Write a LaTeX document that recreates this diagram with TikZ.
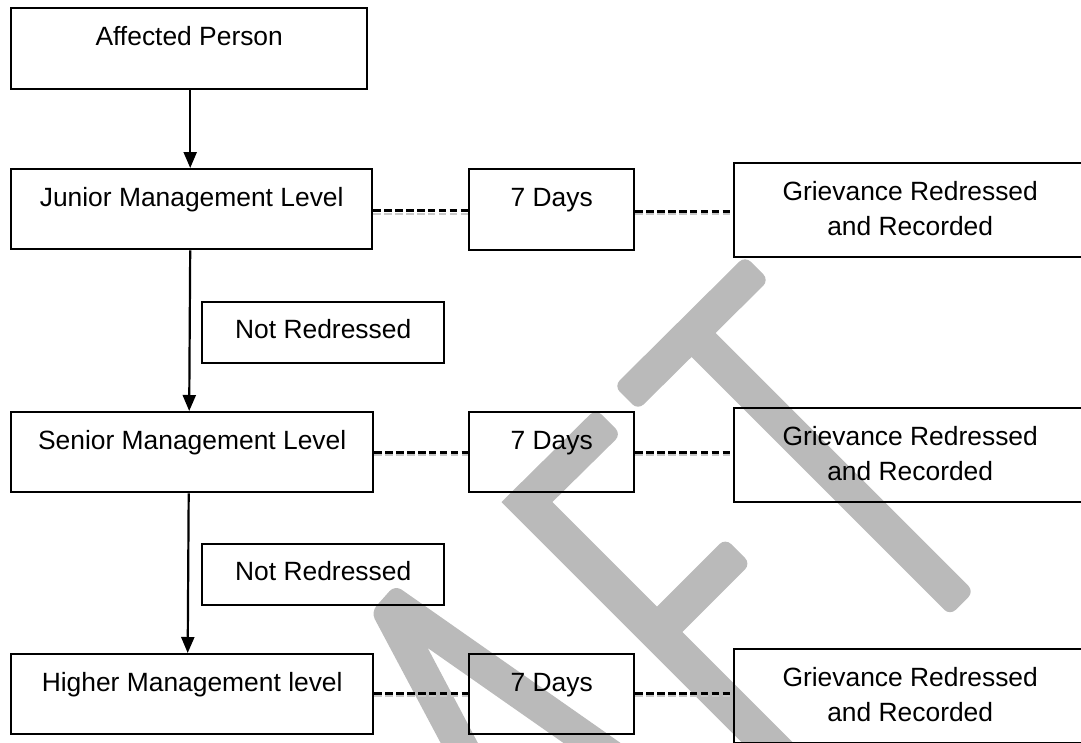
\documentclass[tikz,border=0pt]{standalone}
\usepackage{fontspec}
\setmainfont{Liberation Sans}
\usetikzlibrary{arrows.meta}
\definecolor{wmgray}{RGB}{186,186,186}
\definecolor{shgray}{RGB}{200,200,200}
\newcommand\wfont{\fontsize{26.4pt}{35pt}\selectfont}
\begin{document}
\begin{tikzpicture}[x=1pt,y=-1pt,
  box/.style={draw, line width=2.4pt, inner sep=0pt, anchor=north west, font=\wfont, text height=37pt},
  arr/.style={line width=2.2pt, -{Triangle[length=16pt,width=13pt]}},
  conn/.style={line width=2.6pt, dash pattern=on 7.5pt off 3.4pt},
  connshadow/.style={line width=2.4pt, shgray, dash pattern=on 7.5pt off 3.4pt},
  wm/.style={fill=wmgray}]
\useasboundingbox (0,0) rectangle (1081,742);
\clip (0,0) rectangle (1081,742);

% watermark (DRAFT, partly visible)
\fill[wm, rounded corners=8pt] (471,800) -- (371,612) -- (395,585) -- (702,800) [sharp corners] -- (645,800) -- (427.7,648) -- (508,800) -- cycle;
\fill[wm, rounded corners=8pt] (501.5,502) -- (595.8,408.8) -- (621.2,434.2) [sharp corners] -- (552.4,502) -- (657,606.6) [rounded corners=8pt] -- (725.3,538.3) -- (750.7,563.7) [sharp corners] -- (682.4,632) -- (852.4,802) -- (801.5,802) -- cycle;
\fill[wm, rounded corners=8pt] (614,386) -- (745,256) -- (769,280) [sharp corners] -- (715.5,333) [rounded corners=8pt] -- (974,591.5) -- (950,615.5) [sharp corners] -- (691.5,357) [rounded corners=8pt] -- (638,410) -- cycle;

% boxes
\node[box, minimum width=356pt, minimum height=81pt, text depth=44pt] (ap) at (10,7) {Affected Person};
\node[box, minimum width=361pt, minimum height=80pt, text depth=43pt] (jml) at (10,168) {Junior Management Level};
\node[box, minimum width=165pt, minimum height=81pt, text depth=44pt] (d1) at (468,168) {7 Days};
\node[box, minimum width=352pt, minimum height=94pt, text depth=57pt] (g1) at (733,162) {\begin{tabular}[t]{@{}c@{}}Grievance Redressed\\and Recorded\end{tabular}};
\node[box, minimum width=242pt, minimum height=61pt, text height=36pt, text depth=25pt] (nr1) at (201,301) {Not Redressed};
\node[box, minimum width=362pt, minimum height=80pt, text depth=43pt] (sml) at (10,411) {Senior Management Level};
\node[box, minimum width=165pt, minimum height=80pt, text depth=43pt] (d2) at (468,411) {7 Days};
\node[box, minimum width=352pt, minimum height=94pt, text depth=57pt] (g2) at (733,407) {\begin{tabular}[t]{@{}c@{}}Grievance Redressed\\and Recorded\end{tabular}};
\node[box, minimum width=242pt, minimum height=61pt, text height=36pt, text depth=25pt] (nr2) at (201,543) {Not Redressed};
\node[box, minimum width=362pt, minimum height=80pt, text depth=43pt] (hml) at (10,653) {Higher Management level};
\node[box, minimum width=165pt, minimum height=80pt, text depth=43pt] (d3) at (468,653) {7 Days};
\node[box, minimum width=352pt, minimum height=94pt, text depth=57pt] (g3) at (733,648) {\begin{tabular}[t]{@{}c@{}}Grievance Redressed\\and Recorded\end{tabular}};

% arrows
\draw[arr] ([xshift=1pt]ap.south) -- ([xshift=1pt]ap.south |- jml.north);
\draw[arr] ([xshift=-1.5pt]jml.south) -- ([xshift=-3pt]sml.north);
\draw[arr] ([xshift=-3.5pt]sml.south) -- ([xshift=-4.5pt]hml.north);

% dashed connectors with grey shadow
\draw[connshadow] ([yshift=-4.5pt]jml.east) -- ([yshift=-4.5pt]jml.east -| d1.west);
\draw[connshadow] ([yshift=-4.5pt]d1.east) -- ([yshift=-4.5pt]d1.east -| g1.west);
\draw[conn] ([yshift=-1.5pt]jml.east) -- ([yshift=-1.5pt]jml.east -| d1.west);
\draw[conn] ([yshift=-1.5pt]d1.east) -- ([yshift=-1.5pt]d1.east -| g1.west);

\draw[connshadow] ([yshift=-3pt]sml.east) -- ([yshift=-3pt]sml.east -| d2.west);
\draw[connshadow] ([yshift=-3pt]d2.east) -- ([yshift=-3pt]d2.east -| g2.west);
\draw[conn] (sml.east) -- (sml.east -| d2.west);
\draw[conn] (d2.east) -- (d2.east -| g2.west);

\draw[connshadow] ([yshift=-2pt]hml.east) -- ([yshift=-2pt]hml.east -| d3.west);
\draw[connshadow] ([yshift=-2pt]d3.east) -- ([yshift=-2pt]d3.east -| g3.west);
\draw[conn] ([yshift=1pt]hml.east) -- ([yshift=1pt]hml.east -| d3.west);
\draw[conn] ([yshift=1pt]d3.east) -- ([yshift=1pt]d3.east -| g3.west);
\end{tikzpicture}
\end{document}
